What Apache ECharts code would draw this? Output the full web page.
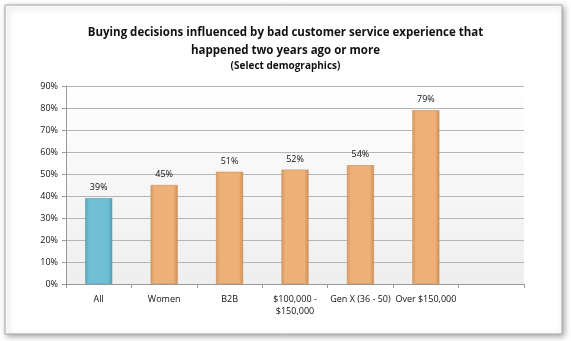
<!DOCTYPE html>
<html><head><meta charset="utf-8">
<script src="https://cdn.jsdelivr.net/npm/echarts@6/dist/echarts.min.js"></script>
<style>html,body{margin:0;padding:0;background:#fff}#c{width:571px;height:341px}</style>
</head><body><div id="c"></div>
<script>
const categories = ['All', 'Women', 'B2B', '$100,000 -\n$150,000', 'Gen X (36 - 50)', 'Over $150,000', ''];
const values = [39, 45, 51, 52, 54, 79, null];
const yTicks = [0, 10, 20, 30, 40, 50, 60, 70, 80, 90];
const titleLines = ['Buying decisions influenced by bad customer service experience that', 'happened two years ago or more'];
const subtitle = '(Select demographics)';

function grad(c1, c2, c3) {
  return new echarts.graphic.LinearGradient(0, 0, 1, 0, [
    {offset: 0, color: c1}, {offset: 0.15, color: c2}, {offset: 0.85, color: c2}, {offset: 1, color: c3}
  ]);
}
const blue = grad('#58a6bb', '#6fc0d6', '#4d98ad');
const orange = grad('#d99a60', '#edb077', '#cf8c52');

const chart = echarts.init(document.getElementById('c'), null, {renderer: 'canvas'});
const font = '"Open Sans", "Liberation Sans", sans-serif';
chart.setOption({
  animation: false,
  backgroundColor: '#fff',
  graphic: [
    {type: 'rect', shape: {x: 5, y: 5, width: 557, height: 329}, style: {fill: '#fff', stroke: '#a8a8a8', lineWidth: 1, shadowBlur: 6, shadowColor: 'rgba(0,0,0,0.35)', shadowOffsetX: 2, shadowOffsetY: 2}, z: -10},
    {type: 'rect', shape: {x: 66, y: 86, width: 458, height: 198}, style: {fill: new echarts.graphic.LinearGradient(0, 0, 0, 1, [{offset: 0, color: '#ffffff'}, {offset: 1, color: '#eeeeee'}])}, z: -5}
  ],
  title: [
    {text: titleLines.join('\n'), left: 'center', top: 19, textStyle: {fontFamily: font, fontSize: 11.5, fontWeight: 'bold', color: '#111', lineHeight: 18}},
    {text: subtitle, left: 'center', top: 56, textStyle: {fontFamily: font, fontSize: 10, fontWeight: 'bold', color: '#111'}}
  ],
  grid: {left: 66, right: 47, top: 86, bottom: 57, containLabel: false},
  xAxis: {
    type: 'category', data: categories, boundaryGap: true,
    axisLine: {lineStyle: {color: '#999'}},
    axisTick: {show: true, alignWithLabel: false, length: 4, lineStyle: {color: '#999'}},
    axisLabel: {interval: 0, fontFamily: font, fontSize: 9, color: '#111', margin: 9, lineHeight: 12}
  },
  yAxis: {
    type: 'value', min: 0, max: 90, interval: 10,
    axisLine: {show: true, lineStyle: {color: '#999'}},
    axisTick: {show: true, length: 4, lineStyle: {color: '#999'}},
    splitLine: {lineStyle: {color: '#b5b5b5'}},
    axisLabel: {fontFamily: font, fontSize: 9, color: '#111', margin: 8, formatter: v => v + '%'}
  },
  series: [{
    type: 'bar', barWidth: 27,
    data: values.map((v, i) => ({value: v, itemStyle: {color: i === 0 ? blue : orange, borderColor: i === 0 ? '#4d98ad' : '#c98a52', borderWidth: 0.6}})),
    label: {show: true, position: 'top', distance: 6, fontFamily: font, fontSize: 9, color: '#111', formatter: p => p.value + '%'}
  }]
});
</script></body></html>
